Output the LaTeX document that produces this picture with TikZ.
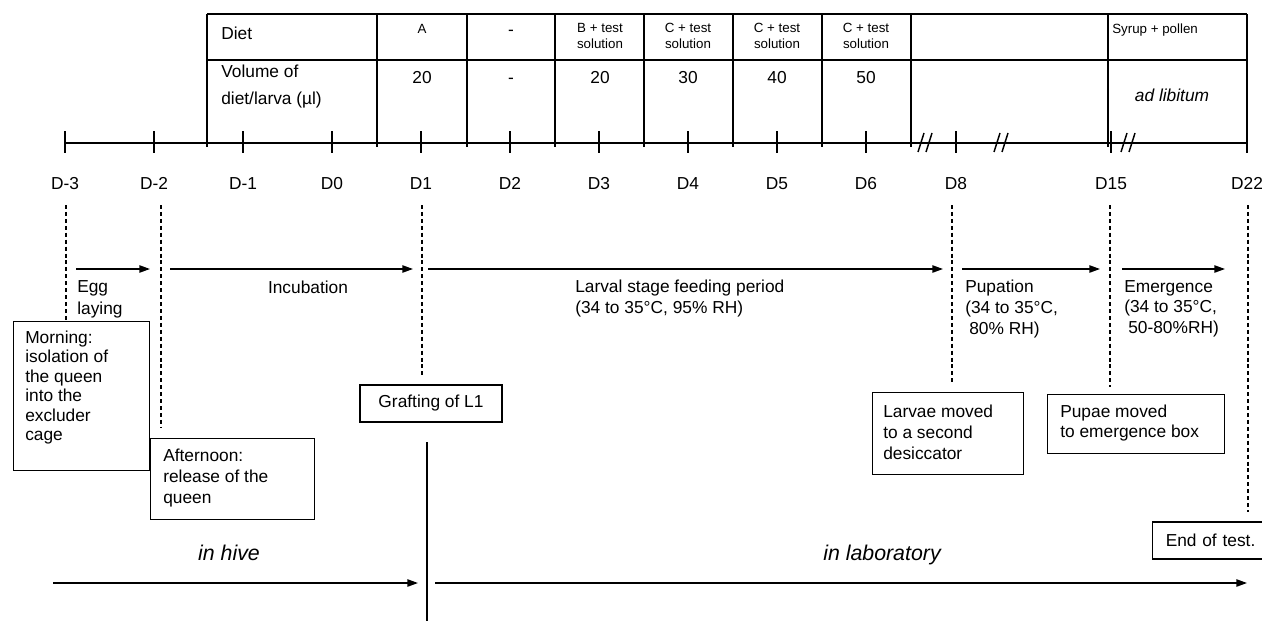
\documentclass[tikz,border=0pt]{standalone}
\usepackage{fontspec}
\setmainfont{Liberation Sans}
\usepackage{tikz}
\usetikzlibrary{arrows.meta,positioning}
\tikzset{
    axis line/.style={line width=1.1pt},
    table line/.style={line width=1.1pt},
    day line/.style={line width=0.9pt,dash pattern=on 3pt off 2.2pt},
    arr/.style={-{Triangle[length=8pt,width=5.5pt]},line width=1.1pt},
    event box/.style={draw,line width=1.1pt,anchor=north west,inner sep=0pt},
    box text/.style={align=left,anchor=north west},
    cell small/.style={align=center,font=\fontsize{10}{11.5}\selectfont},
    place/.style={font=\fontsize{16}{19}\selectfont\itshape},
}
\tikzstyle{every node}=[font=\fontsize{13}{15.5}\selectfont,inner sep=0pt]

\begin{document}
\begin{tikzpicture}[x=0.75pt,y=-0.75pt]
    \useasboundingbox (0,0) rectangle (1262,621);
    % table of diets
    \draw[table line] (207,14) -- (1247,14) (207,60) -- (1247,60);
    \foreach \x in {207,377,467,555,644,733,822,911,1108}
        \draw[table line] (\x,14) -- (\x,147);
    \draw[table line] (1247,14) -- (1247,153);
    \node[anchor=west] (diet) at (221,33) {Diet};
    \node[box text,font=\fontsize{13}{20}\selectfont] (volume) at (221,65) {Volume of\\diet/larva (µl)};
    \node[cell small] (dietA) at (422,29) {A};
    \node (dietnone) at (511,33) {-};
    \foreach \x/\f [count=\i] in {600/B,688/C,777/C,866/C}
        \node[cell small] (diet\i) at (\x,36) {\f\ + test\\solution};
    \node[cell small,anchor=west] (syrup) at (1112,30) {Syrup + pollen};
    \foreach \x/\v [count=\i] in {422/20,511/-,600/20,688/30,777/40,866/50}
        \node[anchor=base] (vol\i) at (\x,83) {\v};
    \node[font=\fontsize{13}{15}\selectfont\itshape] (adlib) at (1172,95) {ad libitum};

    % time axis
    \draw[axis line] (65,143) -- (1247,143);
    \foreach \x/\t [count=\i] in {65/D-3,154/D-2,243/D-1,332/D0,421/D1,510/D2,599/D3,688/D4,777/D5,866/D6,956/D8,1111/D15,1247/D22}{
        \draw[axis line] (\x,131) -- (\x,153);
        \node[anchor=base] (day\i) at (\x,189) {\t};
    }
    \foreach \x in {918,926,994,1002,1121,1129}
        \draw[axis line] (\x,152) -- (\x+6,133);
    \foreach \x/\y in {66/320,161/428,422/378,952/383,1110/387,1248/512}
        \draw[day line] (\x,205) -- (\x,\y);

    % stages
    \foreach \a/\b [count=\i] in {76/150,170/413,428/943,962/1100,1122/1225}{
        \coordinate (stage\i s) at (\a,269);
        \coordinate (stage\i e) at (\b,269);
        \draw[arr] (stage\i s) -- (stage\i e);
    }
    \node[box text,font=\fontsize{13}{16.5}\selectfont] (egg) at (77,280) {Egg\\laying};
    \node (incubation) at (308,287) {Incubation};
    \node[box text,font=\fontsize{13}{15.75}\selectfont] (larval) at (575,280) {Larval stage feeding period\\(34 to 35°C, 95\% RH)};
    \node[box text] (pupation) at (965,280) {Pupation\\(34 to 35°C,\\\hspace*{3pt}80\% RH)};
    \node[box text] (emergence) at (1124,280) {Emergence\\(34 to 35°C,\\\hspace*{3pt}50-80\%RH)};

    % events
    \node[event box,minimum width=102pt,minimum height=111.75pt] (morningbox) at (13,321) {};
    \node[box text,font=\fontsize{13}{14.6}\selectfont,below right=7pt and 9pt of morningbox.north west] (morning) {Morning:\\isolation of\\the queen\\into the\\excluder\\cage};
    \node[event box,minimum width=123pt,minimum height=60.75pt] (afternoonbox) at (150,438) {};
    \node[box text,below right=8.25pt and 9.75pt of afternoonbox.north west] (afternoon) {Afternoon:\\release of the\\queen};
    \node[draw,line width=1.1pt,minimum width=106.5pt,minimum height=27.75pt] (grafting) at (431,403.5) {Grafting of L1};
    \node[event box,minimum width=113.25pt,minimum height=61.5pt] (larvaebox) at (872,392) {};
    \node[box text,font=\fontsize{13}{15.75}\selectfont,below right=9.75pt and 8.25pt of larvaebox.north west] (larvae) {Larvae moved\\to a second\\desiccator};
    \node[event box,minimum width=132.75pt,minimum height=44.25pt] (pupaebox) at (1047,394) {};
    \node[box text,font=\fontsize{13}{15}\selectfont,below right=8.25pt and 9.75pt of pupaebox.north west] (pupae) {Pupae moved\\to emergence box};
    \node[draw,line width=1.1pt,anchor=west,text width=70pt,inner xsep=9.75pt,minimum height=27.75pt] (endtest) at (1152,540.5) {End of test.};

    % hive and laboratory
    \node[place] (hive) at (229,553) {in hive};
    \node[place] (lab) at (882,555) {in laboratory};
    \coordinate (hive s) at (53,583);
    \coordinate (hive e) at (418,583);
    \coordinate (lab s) at (435,583);
    \coordinate (lab e) at (1247,583);
    \draw[arr] (hive s) -- (hive e);
    \draw[arr] (lab s) -- (lab e);
    \draw[axis line] (427,442) -- (427,621);
\end{tikzpicture}
\end{document}
